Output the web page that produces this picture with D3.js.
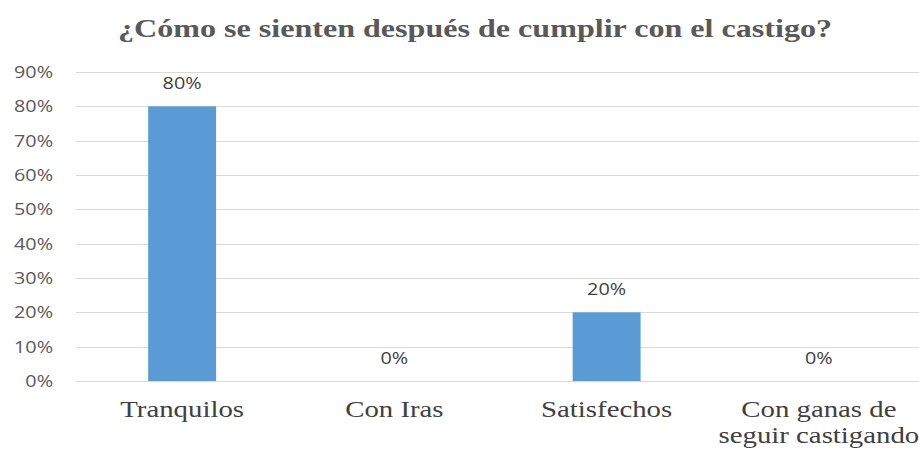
<!DOCTYPE html>
<html>
<head>
<meta charset="utf-8">
<script src="https://cdn.jsdelivr.net/npm/d3@7"></script>
<style>
  body { margin: 0; background: #fff; }
</style>
</head>
<body>
<div id="vis"></div>
<script>
var width = 919,
    height = 450;

// data
var categories = ["Tranquilos", "Con Iras", "Satisfechos", "Con ganas de\nseguir castigando"];
var values = [0.80, 0, 0.20, 0];
var yTicks = [0, 0.1, 0.2, 0.3, 0.4, 0.5, 0.6, 0.7, 0.8, 0.9];
var title = "¿Cómo se sienten después de cumplir con el castigo?";

// the source picture is stretched sideways, so text is too
var sx = 1.2;

var svg = d3.select("#vis").append("svg")
    .attr("width", width)
    .attr("height", height);

var x = d3.scaleBand().domain(categories).range([76, 925]).paddingInner(0.68).paddingOuter(0.34);
var y = d3.scaleLinear().domain([0, 0.9]).range([381, 72]);
var fmt = d3.format(".0%");

function place(px, py) {
    return "translate(" + px + "," + py + ") scale(" + sx + ",1)";
}

// title
svg.append("text")
    .attr("x", 118)
    .attr("y", 37)
    .attr("textLength", 714)
    .attr("lengthAdjust", "spacingAndGlyphs")
    .style("font-family", "'Liberation Serif', serif")
    .style("font-weight", "bold")
    .style("font-size", "26px")
    .style("fill", "#595959")
    .text(title);

// gridlines
svg.append("g").selectAll("line")
    .data(yTicks)
    .enter().append("line")
    .attr("x1", 76).attr("x2", 919)
    .attr("y1", function(d) { return Math.round(y(d)) + 0.5; })
    .attr("y2", function(d) { return Math.round(y(d)) + 0.5; })
    .style("stroke", "#d9d9d9")
    .style("stroke-width", 1);

// y labels
svg.append("g").selectAll("text")
    .data(yTicks)
    .enter().append("text")
    .attr("transform", function(d) { return place(53, y(d)); })
    .attr("dy", "0.36em")
    .attr("text-anchor", "end")
    .style("font-family", "'Open Sans', sans-serif")
    .style("font-size", "16.5px")
    .style("fill", "#595959")
    .text(fmt);

// bars
svg.append("g").selectAll("rect")
    .data(values)
    .enter().append("rect")
    .attr("x", function(d, i) { return x(categories[i]); })
    .attr("width", x.bandwidth())
    .attr("y", function(d) { return y(d); })
    .attr("height", function(d) { return y(0) - y(d); })
    .style("fill", "#5b9bd5");

// data labels
svg.append("g").selectAll("text")
    .data(values)
    .enter().append("text")
    .attr("transform", function(d, i) {
        return place(x(categories[i]) + x.bandwidth() / 2, y(d) - 17);
    })
    .attr("text-anchor", "middle")
    .style("font-family", "'Open Sans', sans-serif")
    .style("font-size", "16.5px")
    .style("fill", "#404040")
    .text(fmt);

// category labels
svg.append("g").selectAll("g")
    .data(categories)
    .enter().append("g")
    .each(function(d) {
        var cx = x(d) + x.bandwidth() / 2;
        var g = d3.select(this);
        d.split("\n").forEach(function(line, j) {
            g.append("text")
                .attr("transform", place(cx, 417 + j * 26))
                .attr("text-anchor", "middle")
                .style("font-family", "'Liberation Serif', serif")
                .style("font-size", "24px")
                .style("fill", "#404040")
                .text(line);
        });
    });
</script>
</body>
</html>
